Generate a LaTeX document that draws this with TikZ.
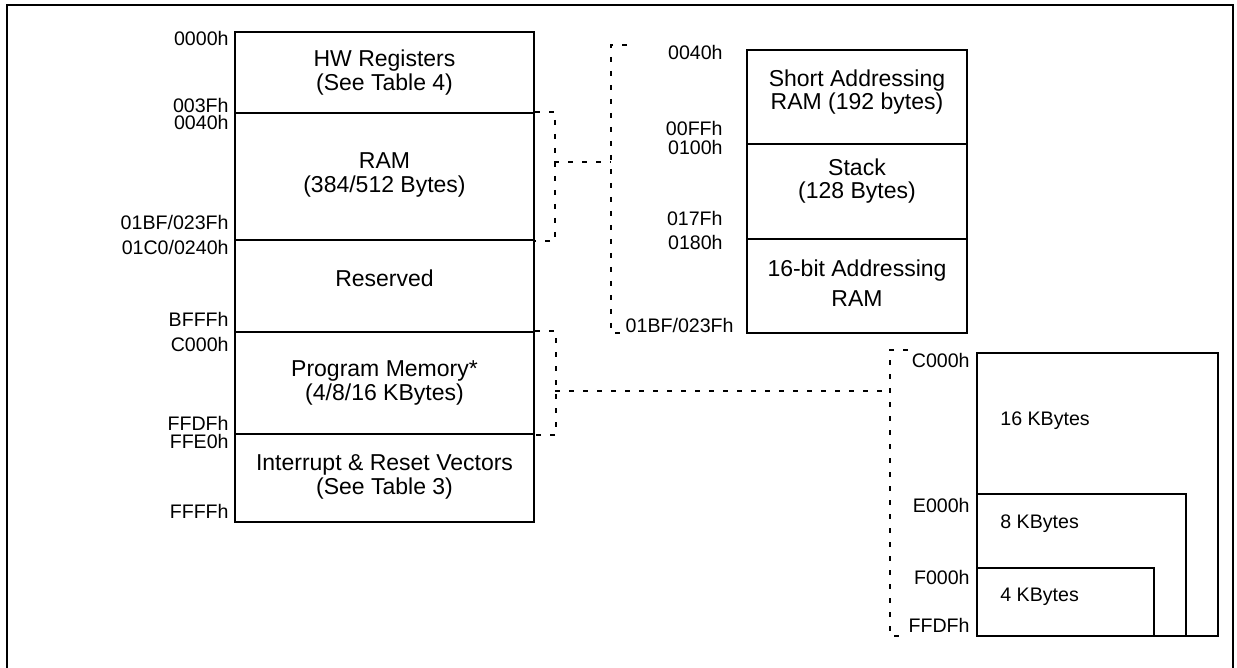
\documentclass[tikz,border=0pt]{standalone}
\usepackage{fontspec}
\setmainfont{Liberation Sans}
\begin{document}
\begin{tikzpicture}[x=0.5pt,y=-0.5pt,
  frameline/.style={line width=1pt},
  memblk/.style={draw, line width=1pt, inner sep=0pt, rectangle},
  conn/.style={line width=0.75pt, dash pattern=on 2.5pt off 4.5pt},
  boxtext/.style={font=\fontsize{11.5}{11.8}\selectfont, align=center, inner sep=0pt},
  sizetext/.style={font=\fontsize{9.8}{10}\selectfont, inner sep=0pt, anchor=west},
  addr/.style={font=\fontsize{9.8}{10}\selectfont, inner sep=0pt, text height=7pt, text depth=0pt, anchor=east}]
\useasboundingbox (0,0) rectangle (1237,668);
% outer frame
\coordinate (fbl) at (7,668);
\coordinate (ftl) at (7,5);
\coordinate (ftr) at (1233,5);
\coordinate (fbr) at (1233,668);
\draw[frameline] (fbl) -- (ftl) -- (ftr) -- (fbr);

% left memory map
\node[memblk, minimum width=149.5pt, minimum height=40.5pt] (hw)   at (384.5,72.5) {};
\node[memblk, minimum width=149.5pt, minimum height=63.5pt] (ram)  at (384.5,176.5) {};
\node[memblk, minimum width=149.5pt, minimum height=46pt]   (res)  at (384.5,286) {};
\node[memblk, minimum width=149.5pt, minimum height=51pt]   (prog) at (384.5,383) {};
\node[memblk, minimum width=149.5pt, minimum height=44pt]   (irq)  at (384.5,478) {};

\node[boxtext] (thw)   at (384.5,72.5) {HW Registers\\(See Table 4)};
\node[boxtext] (tram)  at (384.5,175) {RAM\\(384/512 Bytes)};
\node[boxtext] (tres)  at (384.5,278) {Reserved};
\node[boxtext] (tprog) at (384.5,383) {Program Memory*\\(4/8/16 KBytes)};
\node[boxtext] (tirq)  at (384.5,477) {Interrupt \& Reset Vectors\\(See Table 3)};

\node[addr] (a1)  at (229,39)  {0000h};
\node[addr] (a2)  at (229,106) {003Fh};
\node[addr] (a3)  at (229,123) {0040h};
\node[addr] (a4)  at (229,223) {01BF/023Fh};
\node[addr] (a5)  at (229,248) {01C0/0240h};
\node[addr] (a6)  at (229,320) {BFFFh};
\node[addr] (a7)  at (229,344) {C000h};
\node[addr] (a8)  at (229,423) {FFDFh};
\node[addr] (a9)  at (229,441) {FFE0h};
\node[addr] (a10) at (229,511) {FFFFh};

% RAM detail
\node[memblk, minimum width=110pt, minimum height=47pt]   (sa)  at (857,97) {};
\node[memblk, minimum width=110pt, minimum height=47.5pt] (st)  at (857,191.5) {};
\node[memblk, minimum width=110pt, minimum height=47pt]   (b16) at (857,286) {};

\node[boxtext] (tsa)  at (857,92)  {Short Addressing\\RAM (192 bytes)};
\node[boxtext] (tst)  at (857,181) {Stack\\(128 Bytes)};
\node[boxtext] (tb16) at (857,283) {16-bit Addressing\\[3pt]RAM};

\node[addr] (m1) at (723,53)  {0040h};
\node[addr] (m2) at (723,129) {00FFh};
\node[addr] (m3) at (723,148) {0100h};
\node[addr] (m4) at (723,219) {017Fh};
\node[addr] (m5) at (723,243) {0180h};
\node[addr] (m6) at (734,326) {01BF/023Fh};

% program memory detail
\node[memblk, minimum width=120.5pt, minimum height=141.5pt] (k16) at (1097.5,494.5) {};
\node[memblk, minimum width=104.5pt, minimum height=71pt]    (k8)  at (1081.5,565) {};
\node[memblk, minimum width=88.5pt,  minimum height=34pt]    (k4)  at (1065.5,602) {};

\node[sizetext] (t16) at (1000,421) {16 KBytes};
\node[sizetext] (t8)  at (1000,524) {8 KBytes};
\node[sizetext] (t4)  at (1000,597) {4 KBytes};

\node[addr] (r1) at (970,360) {C000h};
\node[addr] (r2) at (970,505) {E000h};
\node[addr] (r3) at (970,577) {F000h};
\node[addr] (r4) at (970,625) {FFDFh};

% dashed connectors: RAM
\coordinate (ramMid) at (554,162);
\coordinate (ramDet) at (611,162);
\coordinate (rdTop) at (627,45);
\coordinate (rdTopV) at (611,45);
\coordinate (rdBotV) at (611,333);
\coordinate (rdBot) at (627,333);
\draw[conn] (ram.north east) -- ++(20,0) |- (ram.south east);
\draw[conn] (ramMid) -- (ramDet);
\draw[conn] (rdTop) -- (rdTopV) -- (rdBotV) -- (rdBot);

% dashed connectors: program memory
\coordinate (pMid) at (555,391);
\coordinate (pDet) at (890,391);
\coordinate (pdTop) at (908,350);
\coordinate (pdTopV) at (890,350);
\coordinate (pdBotV) at (890,636);
\coordinate (pdBot) at (908,636);
\draw[conn] (prog.north east) -- ++(21,0) |- (prog.south east);
\draw[conn] (pMid) -- (pDet);
\draw[conn] (pdTop) -- (pdTopV) -- (pdBotV) -- (pdBot);
\end{tikzpicture}
\end{document}
